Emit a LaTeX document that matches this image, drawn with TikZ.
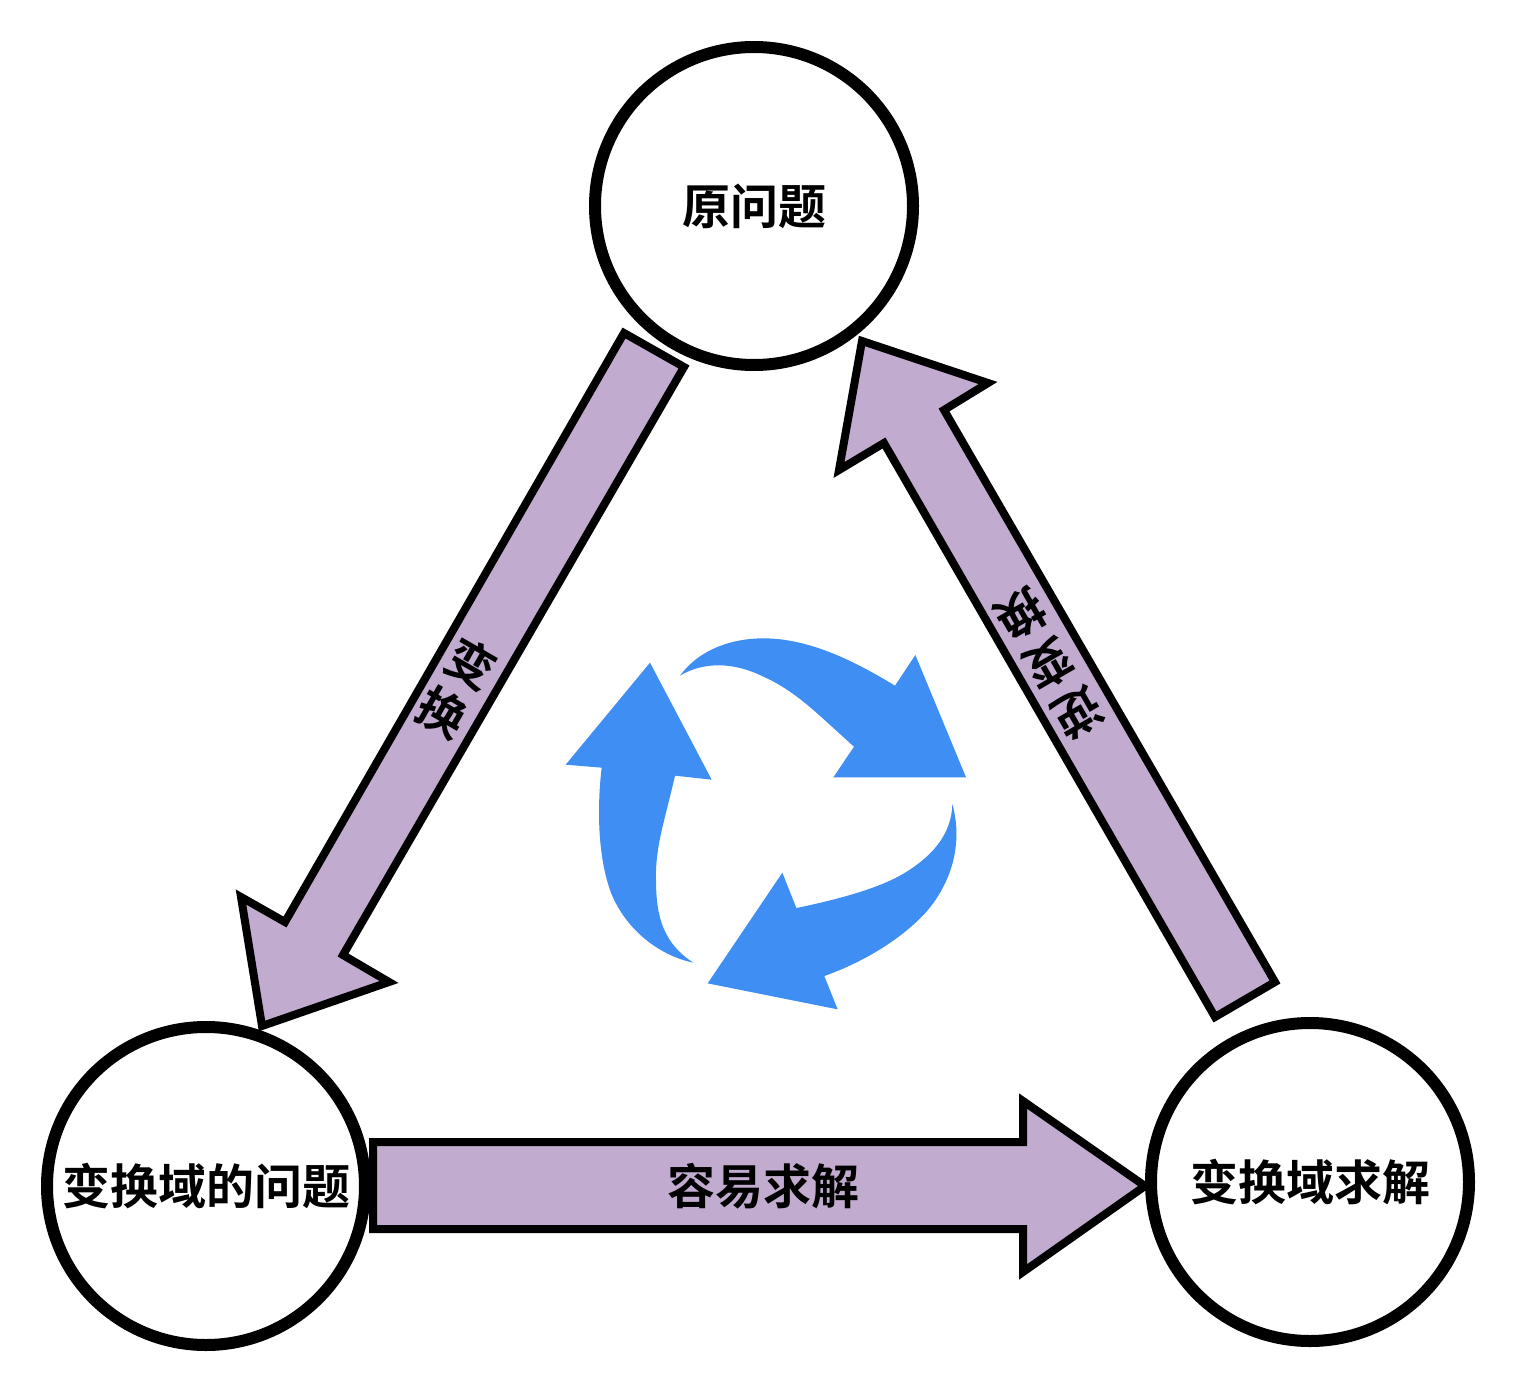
\documentclass[tikz,border=0pt]{standalone}
\usepackage{fontspec}
\setmainfont{Noto Sans CJK SC Bold}
\definecolor{arrowfill}{HTML}{C1ABCF}
\definecolor{cycleblue}{HTML}{3E8EF3}
\tikzset{
  circ/.style={circle,draw=black,line width=6pt,fill=white,minimum size=159pt,inner sep=0pt,font=\fontsize{24}{24}\selectfont},
  blockarrow/.style={draw=black,line width=4pt,fill=arrowfill,miter limit=10},
  lbl/.style={inner sep=0pt,font=\fontsize{24}{24}\selectfont},
  vlbl/.style={inner sep=0pt,align=center,font=\fontsize{24}{28.5}\selectfont},
  cyc/.style={fill=cycleblue,draw=none}
}
\begin{document}
\begin{tikzpicture}[x=0.5pt,y=-0.5pt]
\useasboundingbox (0,0) rectangle (1516,1392);
% block arrows
\draw[blockarrow] (624,333) -- (684,367) -- (343,955) -- (389,982) -- (262,1026) -- (241,897) -- (285,922) -- cycle;
\draw[blockarrow] (1215,1017) -- (1275,982) -- (944,410) -- (988,383) -- (862,341) -- (839,470) -- (884,443) -- cycle;
\draw[blockarrow] (373,1142) -- (1023,1142) -- (1023,1101) -- (1145,1186) -- (1023,1272) -- (1023,1229) -- (373,1229) -- cycle;
% circles
\node[circ] (top) at (754,206) {原问题};
\node[circ] (left) at (206,1186) {变换域的问题};
\node[circ] (right) at (1310,1182) {变换域求解};
% labels
\node[vlbl,rotate=-30] (l1) at (457,688) {变\\换};
\node[vlbl,rotate=-150] (l2) at (1049,664) {逆\\变\\换};
\node[lbl] (l3) at (763,1186) {容易求解};
% cycle arrows
\begin{scope}[shift={(550,620)},x=0.16667pt,y=-0.16667pt]
\fill[cyc] (390,167) .. controls (450,85) and (550,55) .. (640,55)
  .. controls (770,55) and (900,115) .. (1035,197)
  -- (1096,105) -- (1248,472) -- (850,472) -- (912,380)
  .. controls (800,280) and (740,215) .. (640,170)
  .. controls (550,125) and (460,125) .. (390,167) -- cycle;
\fill[cyc] (1207,552) .. controls (1240,670) and (1205,790) .. (1125,880)
  .. controls (1045,965) and (930,1030) .. (823,1068)
  -- (863,1168) -- (473,1090) -- (697,758) -- (739,864)
  .. controls (880,835) and (1000,800) .. (1070,755)
  .. controls (1150,705) and (1205,640) .. (1207,552) -- cycle;
\fill[cyc] (430,1028) .. controls (320,1005) and (220,920) .. (180,810)
  .. controls (145,710) and (140,570) .. (155,443)
  -- (47,434) -- (300,128) -- (485,479) -- (375,467)
  .. controls (345,600) and (315,680) .. (318,780)
  .. controls (318,890) and (340,970) .. (430,1028) -- cycle;
\end{scope}
\end{tikzpicture}
\end{document}
